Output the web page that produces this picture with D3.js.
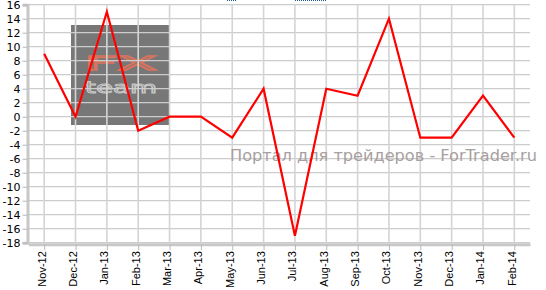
<!DOCTYPE html>
<html>
<head>
<meta charset="utf-8">
<script src="https://cdn.jsdelivr.net/npm/d3@7"></script>
<style>
  body { margin: 0; background: #fff; }
  svg { display: block; }
</style>
</head>
<body>
<svg id="chart" width="546" height="290"></svg>
<script>
// months and values
const months = ["Nov-12", "Dec-12", "Jan-13", "Feb-13", "Mar-13", "Apr-13", "May-13", "Jun-13",
  "Jul-13", "Aug-13", "Sep-13", "Oct-13", "Nov-13", "Dec-13", "Jan-14", "Feb-14"];
const values = [9, 0, 15, -2, 0, 0, -3, 4, -17, 4, 3, 14, -3, -3, 3, -3];
const yTicks = d3.range(-18, 17, 2);

const svg = d3.select("#chart");
const plotLeft = 28.5, plotRight = 530, plotTop = 4.7, plotBottom = 242.7;

let x = d3.scalePoint()
  .domain(months)
  .range([plotLeft, plotRight])
  .padding(0.5);
let y = d3.scaleLinear()
  .domain([-18, 16])
  .range([plotBottom, plotTop]);

// logo block behind the grid
let logo = svg.append("g");
logo.append("rect")
  .attr("x", 71).attr("y", 25)
  .attr("width", 99).attr("height", 100)
  .attr("fill", "#777");
logo.append("text")
  .attr("x", 84).attr("y", 70)
  .attr("font-family", "DejaVu Sans")
  .attr("font-size", 20)
  .attr("textLength", 73)
  .attr("lengthAdjust", "spacingAndGlyphs")
  .attr("fill", "none")
  .attr("stroke", "#d9735e")
  .attr("stroke-width", 1.3)
  .text("FX");
logo.append("text")
  .attr("x", 85).attr("y", 93)
  .attr("font-family", "DejaVu Sans")
  .attr("font-size", 15)
  .attr("textLength", 72)
  .attr("lengthAdjust", "spacingAndGlyphs")
  .attr("fill", "none")
  .attr("stroke", "#c8c8c8")
  .attr("stroke-width", 0.9)
  .text("team");

// grid
svg.append("g")
  .selectAll("line")
  .data(yTicks)
  .join("line")
  .attr("x1", plotLeft).attr("x2", plotRight)
  .attr("y1", d => y(d)).attr("y2", d => y(d))
  .attr("stroke", "#cccccc")
  .attr("stroke-width", 1.3);
svg.append("g")
  .selectAll("line")
  .data(months)
  .join("line")
  .attr("x1", d => x(d)).attr("x2", d => x(d))
  .attr("y1", plotTop).attr("y2", plotBottom)
  .attr("stroke", "#d4d4d4")
  .attr("stroke-width", 1.6);

// watermark
svg.append("text")
  .attr("x", 230).attr("y", 161)
  .attr("font-family", "DejaVu Sans")
  .attr("font-size", 15)
  .attr("textLength", 307)
  .attr("lengthAdjust", "spacingAndGlyphs")
  .attr("fill", "#a8a0a0")
  .text("Портал для трейдеров - ForTrader.ru");

// axes
let yAxis = d3.axisLeft(y)
  .tickValues(yTicks)
  .tickFormat(d => String(d))
  .tickSize(5)
  .tickPadding(2);
let yG = svg.append("g")
  .attr("transform", `translate(${plotLeft - 1},0)`)
  .call(yAxis);
yG.select(".domain").attr("stroke", "#c8c8c8").attr("stroke-width", 3);
yG.selectAll(".tick line").attr("stroke", "#b8b8b8");
yG.selectAll("text")
  .attr("font-family", "DejaVu Sans")
  .attr("font-size", 11)
  .attr("fill", "#000");

let xAxis = d3.axisBottom(x).tickSize(6).tickPadding(3).tickSizeOuter(0);
let xG = svg.append("g")
  .attr("transform", `translate(0,${plotBottom + 1.5})`)
  .call(xAxis);
xG.select(".domain").attr("stroke", "#c8c8c8").attr("stroke-width", 3);
xG.selectAll(".tick line").attr("stroke", "#b8b8b8");
xG.selectAll("text")
  .attr("font-family", "Liberation Sans")
  .attr("font-size", 11)
  .attr("fill", "#000")
  .attr("text-anchor", "end")
  .attr("dy", "0.35em")
  .attr("transform", "rotate(-90) translate(-7,-12)");

// series
let line = d3.line()
  .x((d, i) => x(months[i]))
  .y(d => y(d));
svg.append("path")
  .datum(values)
  .attr("d", line)
  .attr("fill", "none")
  .attr("stroke", "#ff0000")
  .attr("stroke-width", 2.2)
  .attr("stroke-linejoin", "miter");

// bits of a cut-off link at the top edge
svg.append("line")
  .attr("x1", 227).attr("x2", 236).attr("y1", 0.5).attr("y2", 0.5)
  .attr("stroke", "#1f5a9a").attr("stroke-dasharray", "1,1");
svg.append("line")
  .attr("x1", 295).attr("x2", 326).attr("y1", 0.5).attr("y2", 0.5)
  .attr("stroke", "#1f5a9a").attr("stroke-dasharray", "1,1");
</script>
</body>
</html>
